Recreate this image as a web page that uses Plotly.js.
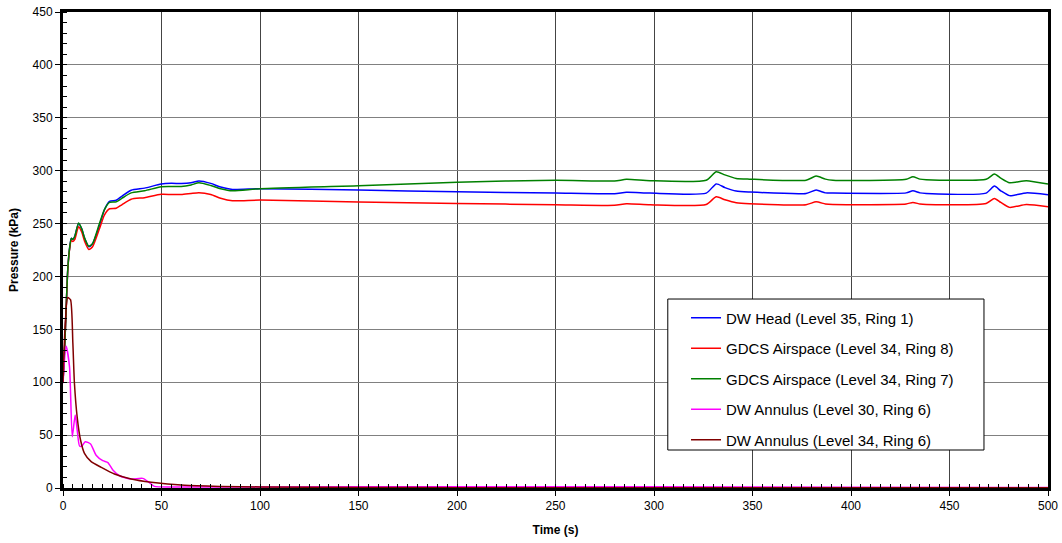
<!DOCTYPE html>
<html>
<head>
<meta charset="utf-8">
<script src="https://cdn.plot.ly/plotly-3.0.1.min.js"></script>
<style>html,body{margin:0;padding:0;background:#fff;}#chart{width:1062px;height:543px;}</style>
</head>
<body>
<div id="chart"></div>
<script>
// Time base for the three upper pressure series (s)
const timeUpper = [0, 1, 1.6, 2.4, 3.3, 4.2, 5, 6, 7.9, 9.5, 11, 13.1, 15, 18.5, 21, 23.6, 27, 30, 34.6, 41.4, 49.8, 55, 60, 65, 69, 75, 80, 86, 100, 150, 200, 250, 280, 286, 298, 326.5, 331.6, 336, 341.7, 348.5, 377.2, 382.3, 387, 390.8, 428, 431.4, 435, 438.2, 468.6, 472.8, 476, 480.5, 489, 500];

const dwHead = [100, 140, 170, 206, 226, 236, 235, 238, 250, 245, 236, 228, 231, 248, 263, 271, 272, 276, 281.5, 283.5, 287.3, 288, 287.8, 288.5, 290.3, 288, 284.5, 282.3, 283, 281.7, 280, 278.8, 278.2, 279.5, 278.8, 278.8, 287.5, 284, 280.7, 279.8, 278.5, 281.7, 279, 278.8, 279, 281, 279, 278.5, 278.8, 285.4, 281, 276.4, 279, 277.2];

const gdcsRing8 = [100, 140, 170, 205, 225, 234, 233, 235, 247, 242, 233, 225.5, 228, 245, 258, 264, 264.5, 268, 273, 274.5, 277.6, 277.5, 277.5, 278.5, 279.2, 277.5, 274, 271.6, 272.2, 270.3, 269, 267.8, 267.2, 268.7, 267.8, 268, 275.3, 272.5, 269.7, 268.7, 267.8, 270.6, 268.5, 268, 268.5, 270, 268.5, 268, 269, 273.8, 270, 265.3, 268, 265.9];

const gdcsRing7 = [100, 140, 170, 206, 226, 236, 235, 238, 250.5, 245, 236, 228.5, 231, 250, 263, 270, 270.5, 274, 279, 281, 284.8, 285, 285, 286.5, 288.5, 286, 283, 281, 283, 285.7, 289, 291, 290.2, 291.8, 290.5, 291, 299, 296, 292.7, 292, 291, 294.9, 292, 291, 291.8, 294.3, 292, 291.5, 291.8, 296.8, 293, 288.6, 290.5, 287.3];

const timeAnn30 = [0, 1.6, 3.3, 4.7, 6.2, 7.2, 8.4, 9.6, 11.3, 14, 16.8, 20.2, 22.8, 25.3, 28.7, 34.6, 40.5, 43.9, 46.4, 60, 100, 200, 300, 400, 500];
const dwAnn30 = [99, 134, 114.7, 48.5, 69, 55, 39.7, 39.7, 43.8, 41.6, 31, 25.8, 24, 17, 11.6, 8.5, 9.1, 5, 1.5, 1, 1, 1.2, 1.2, 0.8, 0.5];

const timeAnn34 = [0, 1, 2.4, 3.8, 5, 5.8, 7.2, 8.9, 10.9, 14.3, 19.4, 26.1, 34.6, 44.8, 61.7, 80, 100, 150, 200, 500];
const dwAnn34 = [100, 150, 180, 178, 137, 99, 67, 45.4, 32.8, 24.9, 19.5, 13.2, 8.5, 5.4, 2.5, 1.5, 1, 0.5, 0.3, 0.2];

const seriesNames = [
  'DW Head (Level 35, Ring 1)',
  'GDCS Airspace (Level 34, Ring 8)',
  'GDCS Airspace (Level 34, Ring 7)',
  'DW Annulus (Level 30, Ring 6)',
  'DW Annulus (Level 34, Ring 6)'
];
const seriesColors = ['#0000FF', '#FF0000', '#008000', '#FF00FF', '#800000'];

const xs = [timeUpper, timeUpper, timeUpper, timeAnn30, timeAnn34];
const ys = [dwHead, gdcsRing8, gdcsRing7, dwAnn30, dwAnn34];

const traces = seriesNames.map((n, i) => ({
  x: xs[i], y: ys[i], name: n, type: 'scatter', mode: 'lines',
  line: {color: seriesColors[i], width: 1.5, shape: 'spline', smoothing: 0.6},
  legendgroup: 'g' + i
}));

const font = {family: 'Liberation Sans, Arial, sans-serif', color: '#000'};

const layout = {
  width: 1062, height: 543,
  margin: {l: 63, r: 14, t: 12, b: 55},
  paper_bgcolor: '#fff', plot_bgcolor: '#fff',
  font: Object.assign({size: 13}, font),
  showlegend: true,
  legend: {
    x: 0.6325, y: 0.392, xanchor: 'left', yanchor: 'top',
    bgcolor: 'rgba(0,0,0,0)', borderwidth: 0,
    font: Object.assign({size: 15}, font),
    traceorder: 'grouped', tracegroupgap: 8, itemwidth: 30
  },
  xaxis: {
    range: [0, 500], dtick: 50, tick0: 0,
    showgrid: true, gridcolor: '#444', gridwidth: 1,
    zeroline: false,
    showline: true, linecolor: '#000', linewidth: 3, mirror: true,
    ticks: 'outside', ticklen: 5, tickcolor: '#000', tickwidth: 1,
    minor: {dtick: 5, ticks: 'inside', ticklen: 4, tickcolor: '#000', showgrid: false},
    tickfont: Object.assign({size: 12}, font),
    title: {text: '<b>Time (s)</b>', font: Object.assign({size: 12}, font), standoff: 14}
  },
  yaxis: {
    range: [0, 450], dtick: 50, tick0: 0,
    showgrid: true, gridcolor: '#808080', gridwidth: 1,
    zeroline: false,
    showline: true, linecolor: '#000', linewidth: 3, mirror: true,
    ticks: 'outside', ticklen: 5, tickcolor: '#000', tickwidth: 1,
    minor: {dtick: 10, ticks: 'inside', ticklen: 4, tickcolor: '#000', showgrid: false},
    tickfont: Object.assign({size: 12}, font),
    title: {text: '<b>Pressure (kPa)</b>', font: Object.assign({size: 12}, font), standoff: 12}
  },
  shapes: [{
    type: 'rect', xref: 'paper', yref: 'paper',
    x0: 0.614, x1: 0.935, y0: 0.0798, y1: 0.397,
    line: {color: '#000', width: 1}, fillcolor: '#fff', layer: 'above'
  }]
};

Plotly.newPlot('chart', traces, layout, {displayModeBar: false, staticPlot: true});
</script>
</body>
</html>
